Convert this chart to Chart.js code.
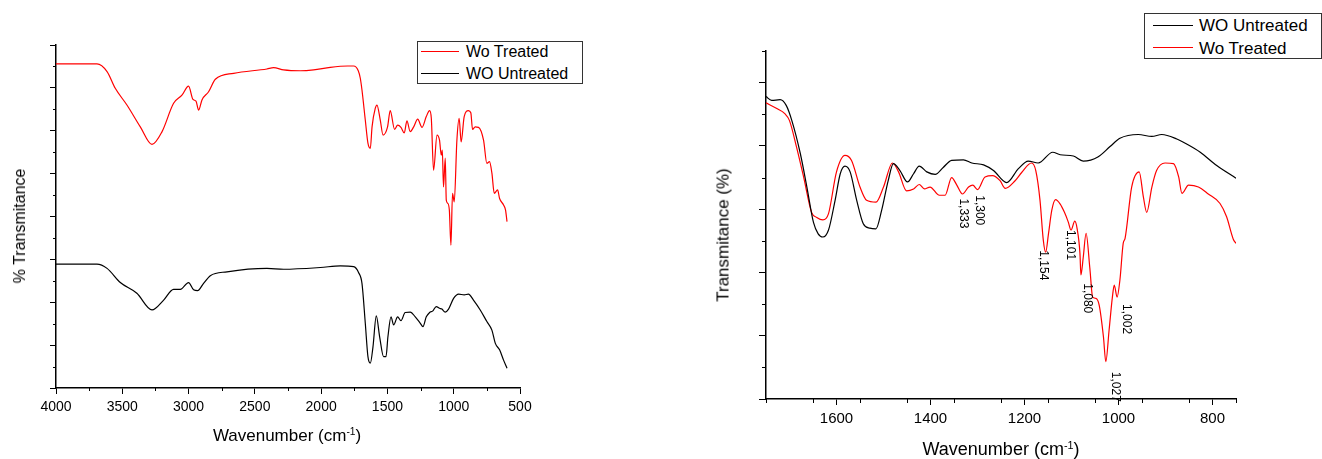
<!DOCTYPE html>
<html>
<head>
<meta charset="utf-8">
<script src="https://cdn.jsdelivr.net/npm/chart.js@4.4.0/dist/chart.umd.min.js"></script>
<style>
body{margin:0;background:#fff;width:1322px;height:459px;overflow:hidden;position:relative;font-family:'Liberation Sans',Arial,sans-serif;color:#000}
canvas{position:absolute;top:0}
#leftChart{left:0}
#rightChart{left:660px}
.t{position:absolute;white-space:nowrap;line-height:1}
.rot{transform:translate(-50%,-50%) rotate(-90deg)}
.ctr{transform:translateX(-50%)}
.box{position:absolute;box-sizing:border-box;border:1px solid #333;background:#fff}
.key{position:absolute;height:0;border-top:1.3px solid}
sup{font-size:0.6em;vertical-align:0;position:relative;top:-0.55em}
</style>
</head>
<body>
<canvas id="leftChart" width="660" height="459"></canvas>
<canvas id="rightChart" width="662" height="459"></canvas>

<div class="t rot" style="left:20px;top:226px;font-size:16px">% Transmitance</div>
<div class="t ctr" style="left:287px;top:427px;font-size:17px">Wavenumber (cm<sup>-1</sup>)</div>
<div class="t rot" style="left:723px;top:235px;font-size:17px">Transmitance (%)</div>
<div class="t ctr" style="left:1001px;top:440px;font-size:18px">Wavenumber (cm<sup>-1</sup>)</div>

<div class="box" style="left:417px;top:41px;width:166px;height:43px"></div>
<div class="key" style="left:421px;top:51px;width:38px;border-color:#ff0000"></div>
<div class="t" style="left:466px;top:44px;font-size:16px">Wo Treated</div>
<div class="key" style="left:421px;top:73px;width:38px;border-color:#000"></div>
<div class="t" style="left:466px;top:66px;font-size:16px">WO Untreated</div>

<div class="box" style="left:1144px;top:13px;width:178px;height:46px"></div>
<div class="key" style="left:1153px;top:25px;width:40px;border-color:#000"></div>
<div class="t" style="left:1199px;top:17px;font-size:17px">WO Untreated</div>
<div class="key" style="left:1153px;top:47px;width:40px;border-color:#ff0000"></div>
<div class="t" style="left:1199px;top:40px;font-size:17px">Wo Treated</div>

<script>
// full range spectra (left)
var fullTreatedWn = [4000,3691,3615,3553,3465,3364,3276,3200,3113,3050,3000,2967,2944,2924,2899,2849,2798,2660,2409,2359,2283,2157,2057,1931,1800,1755,1720,1705,1692,1667,1647,1629,1616,1592,1579,1554,1533,1499,1479,1446,1423,1398,1373,1353,1328,1302,1272,1239,1207,1182,1169,1152,1126,1107,1094,1086,1077,1064,1056,1046,1033,1021,1009,996,976,959,944,921,889,871,858,838,813,775,750,730,712,694,669,654,624,609,598];
var fullTreatedT = [75.6,75.6,73.8,69.9,66.0,60.9,56.8,59.8,66.4,68.3,70.4,67.3,66.9,64.8,67.2,69.1,72.0,73.4,74.4,74.7,74.2,74.0,74.2,74.8,75.1,75.1,74.0,72.3,69.5,62.5,57.1,55.9,60.9,65.2,66.0,62.5,59.0,60.9,64.7,60.3,61.3,60.8,59.5,62.3,59.8,60.9,62.7,60.8,63.3,64.7,62.9,50.8,59.0,57.8,54.3,55.5,46.9,53.6,43.8,43.1,41.5,33.3,45.4,43.4,57.8,62.9,57.4,63.3,64.7,64.2,60.3,60.9,60.8,57.8,52.4,52.8,50.1,45.4,46.2,44.2,42.7,41.5,38.8];
var fullUntreatedWn = [4000,3691,3615,3515,3390,3276,3188,3113,3062,3000,2962,2932,2887,2836,2710,2409,2283,2006,1855,1755,1717,1692,1667,1647,1629,1609,1584,1559,1529,1511,1496,1473,1453,1423,1398,1366,1328,1290,1252,1232,1207,1182,1157,1132,1107,1089,1064,1039,1001,963,921,889,851,800,750,712,686,654,624,598];
var fullUntreatedT = [28.9,28.9,27.9,24.6,22.1,18.2,20.5,23.0,23.0,24.6,22.9,22.7,24.4,26.2,27.1,27.9,27.7,28.1,28.5,28.3,26.9,24.4,15.1,7.3,5.8,9.6,16.8,12.0,7.3,7.3,12.0,16.6,14.7,16.6,15.7,17.6,17.7,16.6,15.1,14.3,16.6,17.6,18.0,19.0,18.6,18.4,17.7,18.4,20.9,21.9,21.7,21.9,20.5,18.2,15.5,13.5,10.4,8.9,6.5,4.6];
var fullXTicks = [4000,3500,3000,2500,2000,1500,1000,500];

// fingerprint region (right)
var zoomUntreatedWn = [1750,1738,1720,1707,1695,1677,1663,1649,1639,1629,1617,1603,1592,1582,1571,1557,1543,1529,1516,1504,1490,1479,1465,1449,1436,1424,1408,1390,1373,1355,1330,1312,1287,1266,1238,1213,1192,1171,1140,1124,1096,1075,1043,1018,997,958,929,908,876,855,826,791,750];
var zoomUntreatedT = [47.8,47.2,47.3,46.4,44.0,38.8,33.5,27.9,26.1,25.6,26.7,31.4,35.6,36.8,35.9,31.4,27.7,27.0,26.9,29.8,34.5,37.2,36.1,34.3,35.6,36.8,35.9,35.5,36.6,37.7,37.8,37.3,37.0,36.1,34.2,36.4,37.6,37.3,39.0,38.6,38.4,37.6,38.3,39.9,41.2,41.8,41.5,41.8,41.1,40.3,39.0,36.9,34.9];
var zoomTreatedWn = [1750,1727,1710,1700,1685,1670,1653,1642,1629,1617,1600,1582,1568,1550,1536,1516,1500,1481,1468,1451,1436,1424,1413,1401,1381,1369,1355,1344,1332,1319,1310,1300,1284,1268,1252,1241,1220,1206,1185,1176,1167,1160,1155,1149,1142,1134,1124,1115,1107,1101,1093,1088,1082,1080,1075,1069,1061,1055,1048,1041,1032,1027,1020,1013,1009,1003,997,990,986,972,956,947,940,929,919,901,883,872,865,851,830,809,784,770,756,750];
var zoomTreatedT = [46.8,45.9,45.1,44.0,39.8,35.1,29.5,28.7,28.3,29.3,35.9,38.5,37.7,33.5,31.4,31.1,33.5,37.3,35.9,32.9,33.2,33.9,33.2,33.5,32.2,32.2,35.0,33.8,32.4,33.5,33.8,33.1,35.1,35.3,34.5,33.3,34.5,35.8,37.3,36.1,31.4,25.1,23.2,26.1,29.8,31.5,30.8,29.5,28.0,26.7,28.1,26.9,23.0,19.6,22.4,26.2,20.7,16.1,15.9,14.8,9.8,5.9,10.9,16.1,18.0,16.1,18.8,24.6,25.4,33.5,35.9,31.9,29.5,33.5,36.1,37.3,37.2,35.1,32.5,33.8,33.5,32.4,30.9,28.8,25.3,24.6];
var zoomXTicks = [1600,1400,1200,1000,800];

// peak labels on the treated curve
var peakLabels = ['1,333','1,300','1,154','1,101','1,080','1,002','1,027'];
var peakWn = [1330,1296,1161,1102,1067,983,1007];
var peakT = [31.7,32.2,23.5,26.7,18.3,15.0,4.3];

var FONT = "'Liberation Sans', Arial, sans-serif";

function pts(xs, ys){
  return xs.map(function(x, i){ return {x: x, y: ys[i]}; });
}

var minorTicks = {
  id: 'minorTicks',
  afterDraw: function(chart, args, o){
    var ctx = chart.ctx, x = chart.scales.x, y = chart.scales.y, v, p;
    ctx.save();
    ctx.strokeStyle = '#000';
    ctx.lineWidth = 1;
    ctx.beginPath();
    for (v = x.min; v <= x.max + 1e-6; v += o.xStep) {
      if (Math.abs(v % o.xMajor) < 1e-6) continue;
      p = Math.round(x.getPixelForValue(v)) + 0.5;
      ctx.moveTo(p, y.bottom);
      ctx.lineTo(p, y.bottom + o.len);
    }
    for (v = y.min; v <= y.max + 1e-6; v += o.yStep) {
      if (Math.abs(v % o.yMajor) < 1e-6) continue;
      p = Math.round(y.getPixelForValue(v)) + 0.5;
      ctx.moveTo(x.left, p);
      ctx.lineTo(x.left - o.len, p);
    }
    ctx.stroke();
    ctx.restore();
  }
};

var peakText = {
  id: 'peakText',
  afterDatasetsDraw: function(chart, args, o){
    if (!o.show) return;
    var ctx = chart.ctx, x = chart.scales.x, y = chart.scales.y;
    ctx.save();
    ctx.font = '12px ' + FONT;
    ctx.fillStyle = '#000';
    ctx.textAlign = 'left';
    ctx.textBaseline = 'middle';
    peakLabels.forEach(function(lab, i){
      ctx.save();
      ctx.translate(x.getPixelForValue(peakWn[i]), y.getPixelForValue(peakT[i]));
      ctx.rotate(Math.PI / 2);
      ctx.fillText(lab, 0, 0);
      ctx.restore();
    });
    ctx.restore();
  }
};

// yr = [min, max, major step]; major ticks stop at the last whole step below max
function makeChart(id, sets, xr, xTicks, yr, box, tickFont, minor, showPeaks){
  return new Chart(document.getElementById(id), {
    type: 'line',
    data: { datasets: sets },
    plugins: [minorTicks, peakText],
    options: {
      responsive: false,
      animation: false,
      devicePixelRatio: 1,
      layout: { padding: { left: 0, top: box.top, right: box.right, bottom: 0 } },
      plugins: {
        legend: { display: false },
        tooltip: { enabled: false },
        minorTicks: minor,
        peakText: { show: showPeaks }
      },
      elements: { point: { radius: 0 }, line: { borderWidth: 1.2, cubicInterpolationMode: 'monotone' } },
      scales: {
        x: {
          type: 'linear', reverse: true, min: xr[0], max: xr[1],
          afterBuildTicks: function(s){ s.ticks = xTicks.map(function(v){ return {value: v}; }); },
          afterFit: function(s){ s.height = box.xh; },
          grid: { drawOnChartArea: false, drawTicks: true, tickLength: 6, color: '#000', lineWidth: 1 },
          border: { display: true, color: '#000', width: 1.5 },
          ticks: { color: '#000', font: { family: FONT, size: tickFont }, padding: 5, maxRotation: 0, autoSkip: false,
                   callback: function(v){ return String(v); } }
        },
        y: {
          min: yr[0], max: yr[1],
          afterBuildTicks: function(s){
            var t = [];
            for (var v = yr[0]; v <= yr[1] + 1e-6; v += yr[2]) t.push({value: v});
            s.ticks = t;
          },
          afterFit: function(s){ s.width = box.yw; },
          grid: { drawOnChartArea: false, drawTicks: true, tickLength: box.ytl, color: '#000', lineWidth: 1 },
          border: { display: true, color: '#000', width: 1.5 },
          ticks: { display: false }
        }
      }
    }
  });
}

makeChart('leftChart', [
  { label: 'Wo Treated', data: pts(fullTreatedWn, fullTreatedT), borderColor: '#ff0000', fill: false },
  { label: 'WO Untreated', data: pts(fullUntreatedWn, fullUntreatedT), borderColor: '#000000', fill: false }
], [500, 4000], fullXTicks, [0, 80, 10],
  { top: 45, right: 140, yw: 56, xh: 71, ytl: 6 }, 14,
  { xStep: 250, xMajor: 500, yStep: 5, yMajor: 10, len: 3 }, false);

makeChart('rightChart', [
  { label: 'WO Untreated', data: pts(zoomUntreatedWn, zoomUntreatedT), borderColor: '#000000', fill: false },
  { label: 'Wo Treated', data: pts(zoomTreatedWn, zoomTreatedT), borderColor: '#ff0000', fill: false }
], [750, 1750], zoomXTicks, [0, 55, 10],
  { top: 51, right: 86, yw: 106, xh: 60, ytl: 7 }, 15,
  { xStep: 100, xMajor: 200, yStep: 5, yMajor: 10, len: 4 }, true);
</script>
</body>
</html>
